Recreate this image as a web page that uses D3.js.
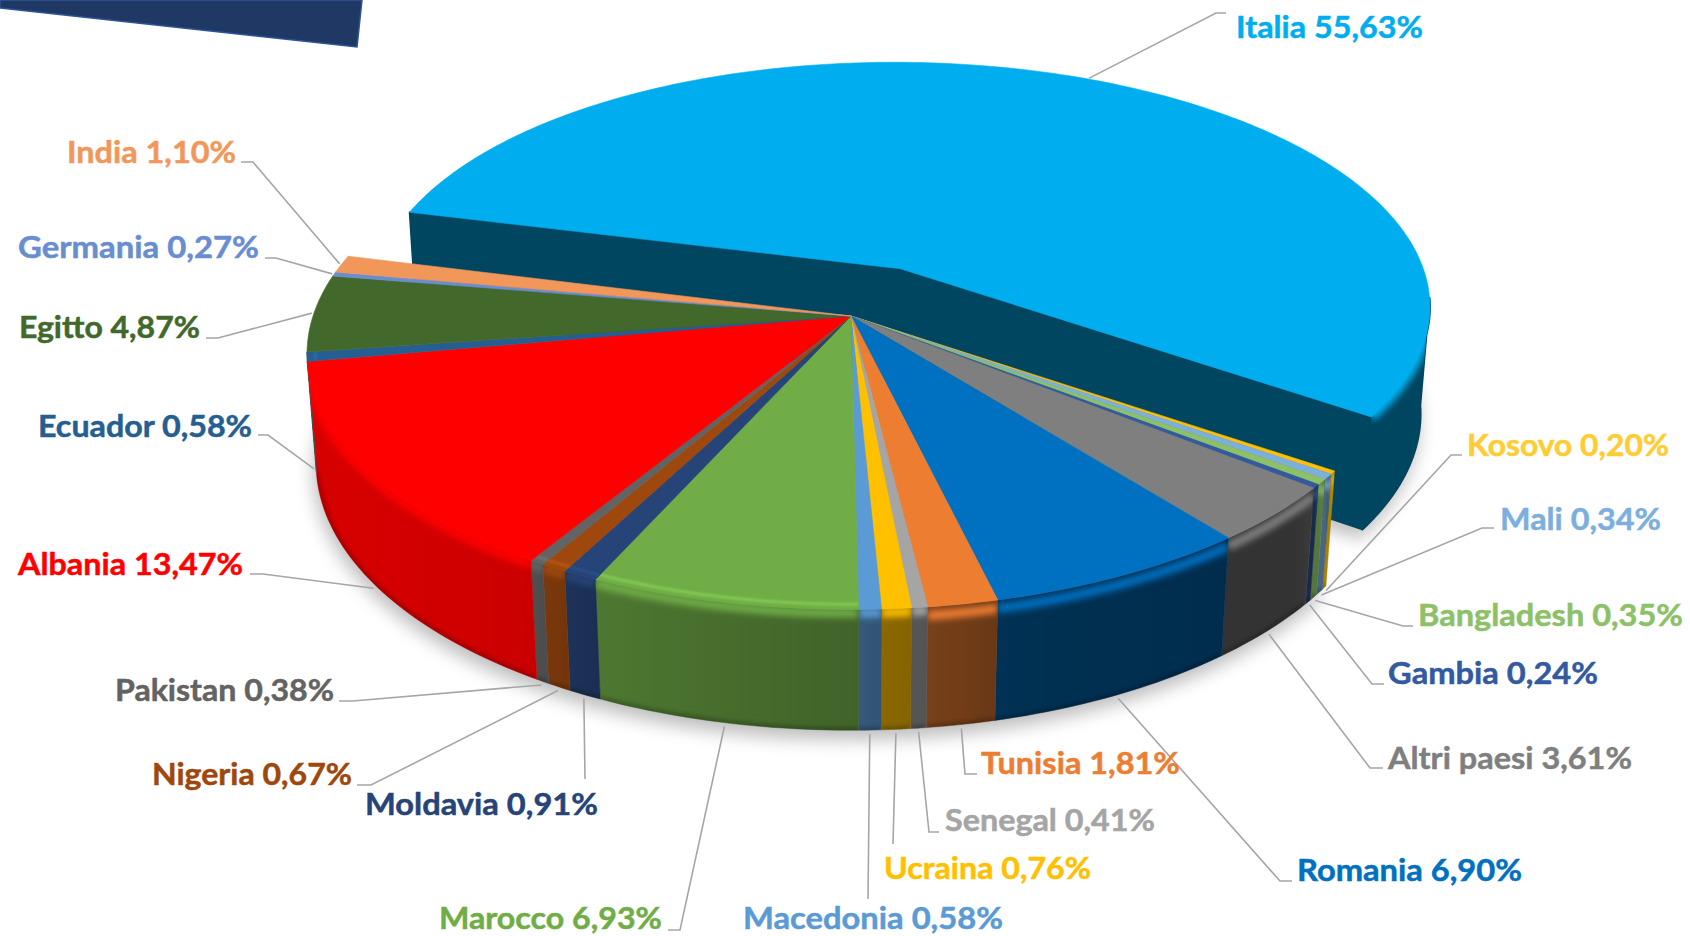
<!DOCTYPE html>
<html><head><meta charset="utf-8">
<style>html,body{margin:0;padding:0;background:#fff}svg{display:block}text{font-family:Lato,"Open Sans",sans-serif;font-weight:700}</style>
<script src="https://cdn.jsdelivr.net/npm/d3@7"></script>
</head><body><svg id="c" width="1690" height="936"></svg>
<script>
// ---- data (clockwise, starting after the exploded slice's end edge)
const countries = ["Kosovo","Mali","Bangladesh","Gambia","Altri paesi","Romania","Tunisia","Senegal","Ucraina","Macedonia","Marocco","Moldavia","Nigeria","Pakistan","Albania","Ecuador","Egitto","Germania","India","Italia"];
const shares    = [0.20,0.34,0.35,0.24,3.61,6.90,1.81,0.41,0.76,0.58,6.93,0.91,0.67,0.38,13.47,0.58,4.87,0.27,1.10,55.63];
const colours   = ["#FFC000","#7CAFDD","#8CC168","#335AA1","#7F7F7F","#0070C0","#ED7D31","#A5A5A5","#FFC000","#5B9BD5","#70AD47","#264478","#9E480E","#636363","#FF0000","#255E91","#43682B","#698ED0","#F1975A","#00AEEF"];
const labelColours = ["#FFCD33","#7CAFDD","#8CC168","#335AA1","#7F7F7F","#0070C0","#ED7D31","#A5A5A5","#FFC000","#5B9BD5","#70AD47","#264478","#9E480E","#636363","#FF0000","#255E91","#43682B","#698ED0","#F1975A","#00AEEF"];
// label layout: [left, right, baseline]
const labelBoxes = [[1467,1669,456],[1500,1661,530],[1418,1683,626],[1388,1598,684],[1388,1632,769],[1297,1522,881],[981,1180,774],[945,1155,831],[884,1091,879],[743,1003,929],[439,662,929],[365,598,815],[152,352,785],[115,334,701],[18,243,575],[38,252,437],[19,200,338],[18,259,258],[67,236,163],[1236,1423,38]];
// leader line label-side points
const leaderElbows = [[[1462,455],[1451,455]],[[1494,528],[1482,528]],[[1413,626],[1403,626]],[[1384,684],[1372,684]],[[1383,768],[1370,768]],[[1292,881],[1280,881]],[[977,774],[965,774]],[[939,832],[929,832]],[[893,844]],[[868,899]],[[668,930],[680,930]],[[585,779]],[[357,785],[371,785]],[[339,701],[353,701]],[[250,574],[263,574]],[[258,435],[268,435]],[[206,338],[218,338]],[[265,258],[276,258]],[[241,162],[253,162]],[[1226,13],[1216,13]]];
const backLeader = new Set(["Egitto","Germania","India","Italia"]);

// ---- projection of the tilted disc (perspective)
const CX=851, CY=316, A=538, B=250, K=0.148, M=0.0165, C=109.8, EXPLODE=0.2134, NUDGE=0.006, EDGE_TUCK=0.5*Math.PI/180;
const project=(u,v,h)=>{const d=1+K*v+M*h;return [CX+A*u/d, CY+(-B*v+C*h)/d];};
const START=124.6*Math.PI/180;
const arcs=d3.pie().sort(null).value(d=>d).startAngle(START).endAngle(START+2*Math.PI)(shares);
const slices=arcs.map((a,i)=>({name:countries[i],share:shares[i],col:colours[i],lab:labelColours[i],box:labelBoxes[i],elbow:leaderElbows[i],a0:a.startAngle,a1:a.endAngle,i}));
const italia=slices.find(s=>s.name==="Italia");
const mid=(italia.a0+italia.a1)/2;
italia.off=[Math.sin(mid)*EXPLODE+NUDGE,Math.cos(mid)*EXPLODE];
italia.a1+=EDGE_TUCK;
slices.forEach(s=>{if(!s.off)s.off=[0,0];});

const rim=(s,a0,a1,h,r=1)=>{const n=Math.max(2,Math.ceil((a1-a0)/(Math.PI/180)));
  return d3.range(n+1).map(j=>{const t=a0+(a1-a0)*j/n;return project(s.off[0]+r*Math.sin(t),s.off[1]+r*Math.cos(t),h);});};
const line=d3.line();
const closed=pts=>line(pts)+"Z";
const deg=t=>((t*180/Math.PI)%360+360)%360;
const shade=d3.scaleLinear().domain([125,126,127,128,129,140,165,172,178,179,204,208,212,262]).range([.75,.5,.65,.6,.4,.4,.43,.5,.55,.57,.69,.75,.8,.85]).clamp(true);
const dim=(c,f)=>{const q=d3.rgb(c);return d3.rgb(q.r*f,q.g*f,q.b*f).formatHex();};

const svg=d3.select("#c");
const defs=svg.append("defs");
const blur=(id,sd)=>defs.append("filter").attr("id",id).attr("filterUnits","userSpaceOnUse").attr("x",0).attr("y",0).attr("width",1690).attr("height",936).append("feGaussianBlur").attr("stdDeviation",sd);
blur("b1",1.2);blur("b2",2.2);blur("b3",3);blur("s",9);

// decorative banner at the top left
svg.append("path").attr("d","M0,8L357,47L362,0L0,0Z").attr("fill","#1F3864").attr("stroke","#2F5597").attr("stroke-width",1.5);

const WALL_MAX=262*Math.PI/180;
const topPath=s=>closed([project(s.off[0],s.off[1],0),...rim(s,s.a0,s.a1,0)]);
const bottomPts=s=>[project(s.off[0],s.off[1],1),...rim(s,s.a0,s.a1,1)];
const wallPts=(s,a0,a1)=>[...rim(s,a0,a1,0),...rim(s,a0,a1,1).reverse()];

// ---- shadow under the pie
const shadow=svg.append("g").attr("filter","url(#s)").attr("transform","translate(-2,9)").attr("opacity",.26);
slices.forEach(s=>shadow.append("path").attr("d",closed(bottomPts(s))).attr("fill","#000").attr("stroke","#000").attr("stroke-width",1));

function drawWall(g,s,range){
  const [a0,a1]=range;
  const p0=project(s.off[0]+Math.sin(a0),s.off[1]+Math.cos(a0),0), p1=project(s.off[0]+Math.sin(a1),s.off[1]+Math.cos(a1),0);
  const id="w"+s.i;
  const gr=defs.append("linearGradient").attr("id",id).attr("gradientUnits","userSpaceOnUse").attr("x1",p0[0]).attr("x2",p1[0]).attr("y1",0).attr("y2",0);
  d3.range(5).forEach(k=>{const t=k/4;gr.append("stop").attr("offset",t).attr("stop-color",dim(s.col,shade(deg(a0+(a1-a0)*t))));});
  const d=closed(wallPts(s,a0,a1));
  g.append("path").attr("d",d).attr("fill",`url(#${id})`).attr("stroke",`url(#${id})`).attr("stroke-width",.5);
  const cid="cw"+s.i;
  defs.append("clipPath").attr("id",cid).append("path").attr("d",d);
  g.append("path").attr("clip-path",`url(#${cid})`).attr("d",line(rim(s,a0,a1,1))).attr("fill","none").attr("stroke","#000").attr("stroke-opacity",.25).attr("stroke-width",6).attr("filter","url(#b2)");
}
function drawTop(g,s,range){
  const d=topPath(s);
  g.append("path").attr("d",d).attr("fill",s.col).attr("stroke",s.col).attr("stroke-width",.6).attr("stroke-linejoin","round");
  if(!range) return;
  const [a0,a1]=range;
  const cid="ct"+s.i;
  defs.append("clipPath").attr("id",cid).append("path").attr("d",d+closed(wallPts(s,a0,a1)));
  const cg=g.append("g").attr("clip-path",`url(#${cid})`);
  const m=deg((a0+a1)/2);
  const bandH=(s.name==="Italia")?0:(m<170?0.07:0.03);
  cg.append("path").attr("d",line(rim(s,a0,a1,bandH))).attr("fill","none").attr("stroke",s.col).attr("stroke-width",9).attr("filter","url(#b3)");
  if(m>=179&&m<262) cg.append("path").attr("d",line(rim(s,a0,a1,0,0.985))).attr("fill","none").attr("stroke",d3.rgb(s.col).brighter(.8).formatHex()).attr("stroke-opacity",.5).attr("stroke-width",3).attr("filter","url(#b1)");
}

// ---- exploded slice: cut faces, wall, top
const ig=svg.append("g");
const ic=dim(italia.col,.4);
const ITALIA_WALL=[97*Math.PI/180+2*Math.PI,italia.a1];
[italia.a0,italia.a1].forEach(t=>{
  const e=(h)=>project(italia.off[0]+Math.sin(t),italia.off[1]+Math.cos(t),h), o=(h)=>project(italia.off[0],italia.off[1],h);
  ig.append("path").attr("d",closed([o(0),e(0),e(1),o(1)])).attr("fill",ic).attr("stroke",ic).attr("stroke-width",1.5).attr("stroke-linejoin","round");
});
ig.append("path").attr("d",closed(wallPts(italia,...ITALIA_WALL))).attr("fill",ic).attr("stroke",ic).attr("stroke-width",2).attr("stroke-linejoin","round");
drawTop(ig,italia,ITALIA_WALL);

// ---- remaining slices: walls then tops
const main=slices.filter(s=>s!==italia);
const wg=svg.append("g"), tg=svg.append("g");
main.forEach(s=>{ if(s.a0<WALL_MAX) drawWall(wg,s,[s.a0,Math.min(s.a1,WALL_MAX)]); });
main.forEach(s=>drawTop(tg,s,s.a0<WALL_MAX?[s.a0,Math.min(s.a1,WALL_MAX)]:null));

// ---- leaders and labels
const lg=svg.append("g");
slices.forEach(s=>{
  const m=(s.a0+s.a1)/2, back=backLeader.has(s.name);
  const end=project(s.off[0]+1.004*Math.sin(m),s.off[1]+1.004*Math.cos(m),back?0:1.02);
  lg.append("path").attr("d",line([...s.elbow,end])).attr("fill","none").attr("stroke","#A6A6A6").attr("stroke-width",1.6);
});
const fmt=v=>v.toFixed(2).replace(".",",")+"%";
svg.append("g").selectAll("text").data(slices).join("text")
  .attr("x",s=>s.box[0]).attr("y",s=>s.box[2])
  .attr("textLength",s=>s.box[1]-s.box[0]).attr("lengthAdjust","spacingAndGlyphs")
  .attr("font-size",31).attr("fill",s=>s.lab).attr("stroke",s=>s.lab).attr("stroke-width",.5)
  .text(s=>`${s.name} ${fmt(s.share)}`);
</script></body></html>
